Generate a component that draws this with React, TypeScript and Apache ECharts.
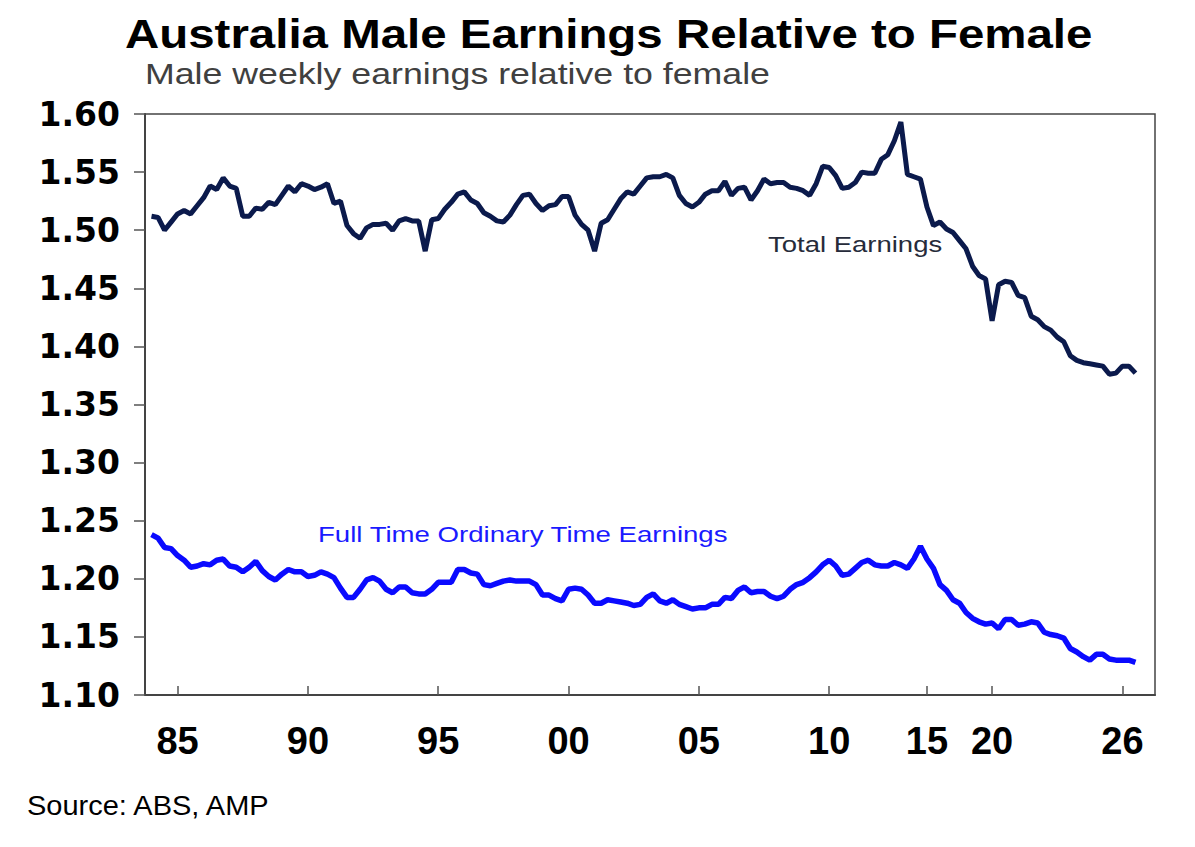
import React, { useEffect, useRef } from "react";
import * as echarts from "echarts";

// Male / female weekly earnings ratio, one value per observation (index 1..152 on the category axis)
const totalEarnings = [
  1.512, 1.511, 1.500, 1.507, 1.514, 1.517, 1.514, 1.521, 1.528, 1.538,
  1.535, 1.545, 1.538, 1.536, 1.512, 1.512, 1.519, 1.518, 1.524, 1.522,
  1.530, 1.538, 1.533, 1.540, 1.538, 1.535, 1.537, 1.540, 1.523, 1.525,
  1.504, 1.497, 1.493, 1.502, 1.505, 1.505, 1.506, 1.500, 1.508, 1.510,
  1.508, 1.508, 1.482, 1.509, 1.510, 1.518, 1.524, 1.531, 1.533, 1.526,
  1.523, 1.515, 1.512, 1.508, 1.507, 1.513, 1.522, 1.530, 1.531, 1.523,
  1.517, 1.521, 1.522, 1.529, 1.529, 1.513, 1.505, 1.500, 1.482, 1.506,
  1.509, 1.518, 1.527, 1.533, 1.531, 1.538, 1.545, 1.546, 1.546, 1.548,
  1.545, 1.530, 1.523, 1.520, 1.524, 1.531, 1.534, 1.534, 1.542, 1.530,
  1.536, 1.537, 1.526, 1.534, 1.544, 1.540, 1.541, 1.541, 1.537, 1.536,
  1.534, 1.530, 1.540, 1.555, 1.554, 1.547, 1.536, 1.537, 1.541, 1.550,
  1.549, 1.549, 1.561, 1.565, 1.577, 1.593, 1.548, 1.546, 1.544, 1.520,
  1.504, 1.507, 1.501, 1.498, 1.491, 1.484, 1.469, 1.461, 1.458, 1.422,
  1.453, 1.456, 1.455, 1.444, 1.442, 1.426, 1.423, 1.417, 1.414, 1.408,
  1.404, 1.392, 1.388, 1.386, 1.385, 1.384, 1.383, 1.376, 1.377, 1.383,
  1.383, 1.377,
];

const fullTimeOrdinary = [
  1.238, 1.235, 1.227, 1.226, 1.220, 1.216, 1.210, 1.211, 1.213, 1.212,
  1.216, 1.217, 1.211, 1.210, 1.206, 1.210, 1.215, 1.207, 1.202, 1.199,
  1.204, 1.208, 1.206, 1.206, 1.202, 1.203, 1.206, 1.204, 1.201, 1.192,
  1.184, 1.184, 1.191, 1.199, 1.201, 1.198, 1.191, 1.188, 1.193, 1.193,
  1.188, 1.187, 1.187, 1.191, 1.197, 1.197, 1.197, 1.208, 1.208, 1.205,
  1.204, 1.195, 1.194, 1.196, 1.198, 1.199, 1.198, 1.198, 1.198, 1.195,
  1.186, 1.186, 1.183, 1.181, 1.191, 1.192, 1.191, 1.186, 1.179, 1.179,
  1.182, 1.181, 1.180, 1.179, 1.177, 1.178, 1.184, 1.187, 1.181, 1.179,
  1.182, 1.178, 1.176, 1.174, 1.175, 1.175, 1.178, 1.178, 1.184, 1.183,
  1.190, 1.193, 1.188, 1.189, 1.189, 1.185, 1.183, 1.185, 1.191, 1.195,
  1.197, 1.201, 1.206, 1.212, 1.216, 1.211, 1.203, 1.204, 1.209, 1.214,
  1.216, 1.212, 1.211, 1.211, 1.214, 1.212, 1.209, 1.217, 1.228, 1.217,
  1.209, 1.195, 1.190, 1.182, 1.179, 1.171, 1.166, 1.163, 1.161, 1.162,
  1.157, 1.165, 1.165, 1.160, 1.161, 1.163, 1.162, 1.154, 1.152, 1.151,
  1.149, 1.140, 1.137, 1.133, 1.130, 1.135, 1.135, 1.131, 1.130, 1.130,
  1.130, 1.128,
];

// x-axis tick labels and the category index at which each sits
const tickLabels = ["85", "90", "95", "00", "05", "10", "15", "20", "26"];
const tickIndex = [5, 25, 45, 65, 85, 105, 120, 130, 150];
const categoryCount = 156;

const yMin = 1.1;
const yMax = 1.6;
const yStep = 0.05;

const seriesNames = ["Total Earnings", "Full Time Ordinary Time Earnings"];

const ARIAL = '"Liberation Sans", Arial, Helvetica, sans-serif';

export default function App() {
  const ref = useRef<HTMLDivElement>(null);

  useEffect(() => {
    if (!ref.current) return;
    const chart = echarts.init(ref.current, null, { renderer: "svg" });
    const categories = Array.from({ length: categoryCount }, (_, i) => String(i));
    const labelAt = new Map<number, string>(tickIndex.map((k, j) => [k, tickLabels[j]]));
    const show = (i: number) => labelAt.has(i);

    chart.setOption({
      animation: false,
      backgroundColor: "#ffffff",
      grid: {
        left: 145,
        right: 40,
        top: 114,
        bottom: 152,
        show: true,
        borderColor: "#444444",
        borderWidth: 1.5,
        backgroundColor: "transparent",
      },
      xAxis: {
        type: "category",
        data: categories,
        boundaryGap: false,
        axisLine: { lineStyle: { color: "#444444", width: 2 } },
        axisTick: {
          inside: true,
          length: 9,
          interval: show,
          lineStyle: { color: "#555555", width: 1.5 },
        },
        axisLabel: {
          interval: show,
          formatter: (_v: string, i: number) => labelAt.get(i) ?? "",
          margin: 27,
          fontFamily: '"Liberation Sans Narrow", "Liberation Sans", Arial, sans-serif',
          fontWeight: "bold",
          fontSize: 38,
          color: "#000000",
        },
        splitLine: { show: false },
      },
      yAxis: {
        type: "value",
        min: yMin,
        max: yMax,
        interval: yStep,
        axisLine: { show: true, lineStyle: { color: "#444444", width: 2 } },
        axisTick: { show: true, inside: false, length: 11, lineStyle: { color: "#555555", width: 1.5 } },
        axisLabel: {
          formatter: (v: number) => v.toFixed(2),
          margin: 25,
          fontFamily: '"DejaVu Sans", Arial, sans-serif',
          fontWeight: "bold",
          fontSize: 33,
          color: "#000000",
        },
        splitLine: { show: false },
      },
      series: [
        {
          name: seriesNames[0],
          type: "line",
          data: [null, ...totalEarnings],
          symbol: "none",
          lineStyle: { color: "#0b1a4c", width: 5 },
          z: 3,
        },
        {
          name: seriesNames[1],
          type: "line",
          data: [null, ...fullTimeOrdinary],
          symbol: "none",
          lineStyle: { color: "#0a0aff", width: 5.5 },
          z: 3,
        },
      ],
      graphic: [
        {
          type: "text",
          x: 125,
          y: 34,
          scaleX: 1.157,
          style: {
            text: "Australia Male Earnings Relative to Female",
            fontFamily: ARIAL,
            fontWeight: "bold",
            fontSize: 41,
            fill: "#000000",
            align: "left",
            verticalAlign: "middle",
          },
        },
        {
          type: "text",
          x: 145,
          y: 74,
          scaleX: 1.19,
          style: {
            text: "Male weekly earnings relative to female",
            fontFamily: ARIAL,
            fontSize: 30,
            fill: "#404040",
            align: "left",
            verticalAlign: "middle",
          },
        },
        {
          type: "text",
          x: 768,
          y: 244,
          scaleX: 1.25,
          style: {
            text: seriesNames[0],
            fontFamily: ARIAL,
            fontSize: 22,
            fill: "#262b3a",
            align: "left",
            verticalAlign: "middle",
          },
        },
        {
          type: "text",
          x: 318,
          y: 534,
          scaleX: 1.255,
          style: {
            text: seriesNames[1],
            fontFamily: ARIAL,
            fontSize: 22,
            fill: "#1a1aff",
            align: "left",
            verticalAlign: "middle",
          },
        },
        {
          type: "text",
          x: 27,
          y: 806,
          scaleX: 1.074,
          style: {
            text: "Source: ABS, AMP",
            fontFamily: ARIAL,
            fontSize: 27,
            fill: "#000000",
            align: "left",
            verticalAlign: "middle",
          },
        },
      ],
    });

    return () => {
      chart.dispose();
    };
  }, []);

  return (
    <div
      ref={ref}
      style={{ position: "absolute", left: 0, top: 0, width: 1195, height: 847, background: "#fff" }}
    />
  );
}
